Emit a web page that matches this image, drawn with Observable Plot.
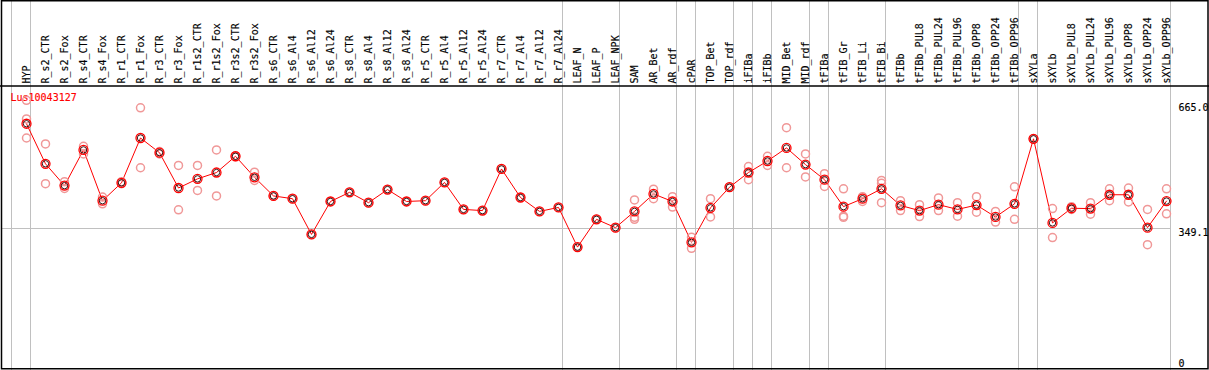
<!DOCTYPE html>
<html><head><meta charset="utf-8">
<script src="https://cdn.jsdelivr.net/npm/d3@7"></script>
<script src="https://cdn.jsdelivr.net/npm/@observablehq/plot@0.6"></script>
<style>body{margin:0;background:#fff} svg{display:block}</style>
</head><body><div id="chart"></div>
<script>
const geneName = "Lus10043127";
const categories = ["HYP","R_s2_CTR","R_s2_Fox","R_s4_CTR","R_s4_Fox","R_r1_CTR","R_r1_Fox","R_r3_CTR","R_r3_Fox","R_r1s2_CTR","R_r1s2_Fox","R_r3s2_CTR","R_r3s2_Fox","R_s6_CTR","R_s6_Al4","R_s6_Al12","R_s6_Al24","R_s8_CTR","R_s8_Al4","R_s8_Al12","R_s8_Al24","R_r5_CTR","R_r5_Al4","R_r5_Al12","R_r5_Al24","R_r7_CTR","R_r7_Al4","R_r7_Al12","R_r7_Al24","LEAF_N","LEAF_P","LEAF_NPK","SAM","AR_Bet","AR_rdf","cPAR","TOP_Bet","TOP_rdf","iFIBa","iFIBb","MID_Bet","MID_rdf","tFIBa","tFIB_Gr","tFIB_Li","tFIB_Bi","tFIBb","tFIBb_PUL8","tFIBb_PUL24","tFIBb_PUL96","tFIBb_OPP8","tFIBb_OPP24","tFIBb_OPP96","sXYLa","sXYLb","sXYLb_PUL8","sXYLb_PUL24","sXYLb_PUL96","sXYLb_OPP8","sXYLb_OPP24","sXYLb_OPP96"];
const means = [614,513,458,548,420,465,578,541,452,475,491,532,479,432,425,335,418,441,415,448,418,420,466,398,395,500,428,393,403,303,373,352,393,437,418,315,402,454,491,520,553,511,473,405,425,450,408,395,410,398,409,379,412,576,364,401,400,435,435,352,419];
const replicates = [[673,626,578],[563,463],[468,451],[557,538],[429,412],[468,463],[654,503],[544,538],[509,397],[509,446],[548,432],[531,533],[492,471],[432,432],[425],[335],[418],[441],[415],[448],[418],[420],[466],[398],[395],[500],[428],[393],[403],[303],[373],[352],[422,378,373],[449,425],[430,404],[328,300],[425,379],[454,454],[506,473],[532,509],[604,503],[538,480],[488,456],[450,381,378],[430,418],[471,464,415],[420,395],[410,380],[427,395],[415,381],[430,391],[393,366],[455,373],[576,576],[400,327],[405,398],[415,386],[450,420],[452,417],[398,309],[450,387]];
const separatorsAfter = ["HYP","R_r7_Al24","LEAF_NPK","AR_rdf","cPAR","TOP_rdf","iFIBa","iFIBb","MID_rdf","tFIBa","tFIB_Bi","tFIBb_OPP96","sXYLa","sXYLb_OPP96"];
const tickValues = [665.0, 349.1, 0];
const tickLabels = ["665.0", "349.1", "0"];
const refLine = [349.1];

const mainTable = categories.map((c, i) => ({cat: c, v: means[i]}));
const repTable = categories.flatMap((c, i) => replicates[i].map(v => ({cat: c, v})));
const ticks = tickValues.map((v, i) => ({v, label: tickLabels[i]}));

const chart = Plot.plot({
  width: 1209, height: 370,
  marginTop: 0, marginBottom: 0, marginLeft: 2, marginRight: 39,
  x: {type: "point", domain: categories, range: [26, 1166], padding: 0, axis: null},
  y: {domain: [0, 665], range: [366.8, 103], axis: null},
  style: {fontFamily: "DejaVu Sans Mono", fontSize: "10px", background: "#fff", color: "black"},
  marks: [
    Plot.ruleX(["HYP"], {x: d => d, dx: -15, stroke: "#c0c0c0", strokeWidth: 1, shapeRendering: "crispEdges"}),
    Plot.ruleX(separatorsAfter, {x: d => d, dx: 4, stroke: "#c0c0c0", strokeWidth: 1, shapeRendering: "crispEdges"}),
    Plot.ruleY(refLine, {stroke: "#c0c0c0", strokeWidth: 1, shapeRendering: "crispEdges"}),
    Plot.text(categories, {x: d => d, frameAnchor: "top", dy: 83, text: d => d, rotate: -90, textAnchor: "start", lineAnchor: "middle", fill: "black", stroke: "black", strokeWidth: 0.15}),
    Plot.text([geneName], {frameAnchor: "top-left", dx: 8, dy: 97, text: d => d, textAnchor: "start", lineAnchor: "middle", fill: "red", stroke: "red", strokeWidth: 0.15}),
    Plot.text(ticks.filter(d => d.v > 0), {x: () => categories[categories.length - 1], dx: 12, y: "v", text: "label", textAnchor: "start", lineAnchor: "top", fill: "black", stroke: "black", strokeWidth: 0.15}),
    Plot.text(ticks.filter(d => d.v === 0), {x: () => categories[categories.length - 1], dx: 12, y: "v", text: "label", textAnchor: "start", lineAnchor: "bottom", fill: "black", stroke: "black", strokeWidth: 0.15}),
    Plot.line(mainTable, {x: "cat", y: "v", stroke: "red", strokeWidth: 1}),
    Plot.dot(repTable, {x: "cat", y: "v", r: 4, stroke: "#f09898", strokeWidth: 1.5, fill: "none"}),
    Plot.dot(mainTable, {x: "cat", y: "v", r: 4.5, stroke: "red", strokeWidth: 1.3, fill: "none"}),
    Plot.dot(mainTable, {x: "cat", y: "v", r: 3.2, stroke: "#200", strokeWidth: 0.9, fill: "none"})
  ]
});

const svg = d3.select(chart);
svg.append("line").attr("x1", 0).attr("x2", 1209).attr("y1", 86).attr("y2", 86).attr("stroke", "black").attr("stroke-width", 1.5);
svg.append("rect").attr("x", 1.5).attr("y", 0.75).attr("width", 1206.5).attr("height", 368).attr("fill", "none").attr("stroke", "black").attr("stroke-width", 1.5);
document.getElementById("chart").appendChild(chart);
</script>
</body></html>
